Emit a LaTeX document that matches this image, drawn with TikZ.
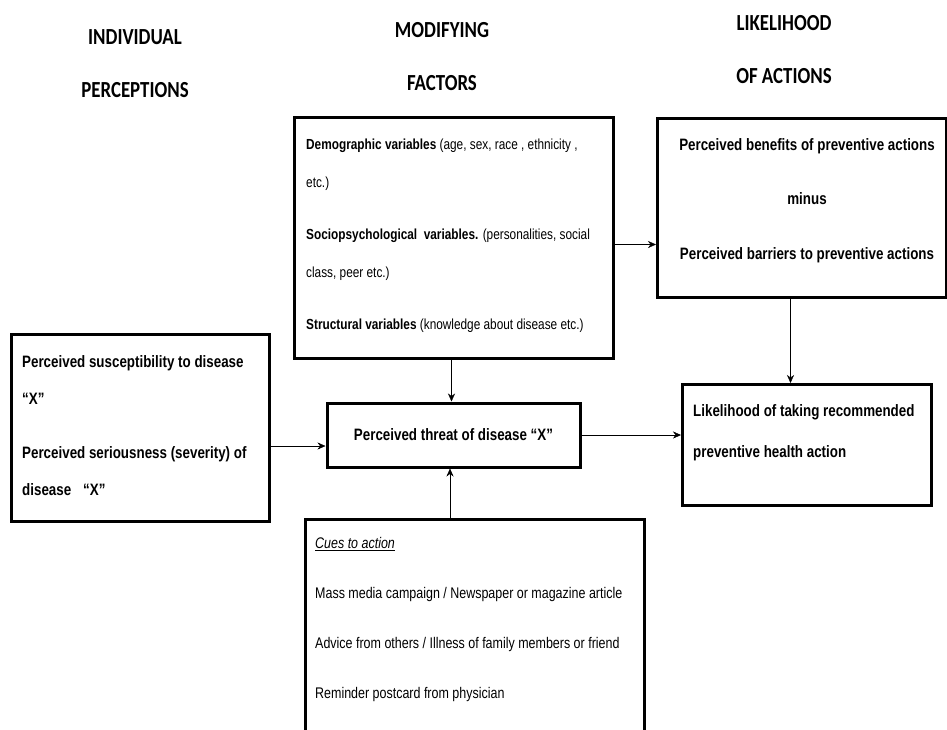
\documentclass[tikz,border=0pt]{standalone}
\usepackage{fontspec}
\setmainfont{Liberation Sans}[FakeStretch=0.81]
\newfontfamily\headfont{Carlito}[FakeStretch=0.82]
\usetikzlibrary{arrows.meta}

\tikzset{
  header/.style={font=\headfont\bfseries\fontsize{23}{53}\selectfont, align=center},
  frame/.style={draw, line width=3pt, inner sep=0pt, anchor=north west},
  boldtxt/.style={font=\bfseries\fontsize{16.5}{37}\selectfont, inner sep=0pt},
  plaintxt/.style={font=\fontsize{14.6}{38}\selectfont, inner sep=0pt},
}

\begin{document}
\begin{tikzpicture}[x=1pt, y=-1pt, >={Stealth[length=8pt,width=7pt]}]
\useasboundingbox (0,0) rectangle (947,729);
\clip (0,0) rectangle (947,729);

% headings
\node[header] (hindiv) at (135,64) {INDIVIDUAL\\PERCEPTIONS};
\node[header] (hmodif) at (442,56.5) {MODIFYING\\FACTORS};
\node[header] (hlikely) at (784,50) {LIKELIHOOD\\OF ACTIONS};

% boxes
\node[frame, minimum width=258pt, minimum height=187pt] (percbox) at (10,333) {};
\node[frame, minimum width=319pt, minimum height=241pt] (modbox) at (293,116) {};
\node[frame, minimum width=289pt, minimum height=179pt] (benbox) at (656,117) {};
\node[frame, minimum width=253pt, minimum height=64pt, anchor=center,
      font=\bfseries\fontsize{16.5}{20}\selectfont] (threat) at (453.5,435)
  {Perceived threat of disease “X”};
\node[frame, minimum width=249pt, minimum height=121pt] (likebox) at (681,383) {};
\node[frame, minimum width=339pt, minimum height=240pt] (cuebox) at (304,518) {};

% texts
\node[boldtxt, anchor=north west, align=left] (perctxt) at (22,355)
  {Perceived susceptibility to disease\\
   “X”\\[17pt]
   Perceived seriousness (severity) of\\
   disease\hspace{12pt}“X”};
\node[plaintxt, anchor=north west, align=left] (modtxt) at (306,138.5)
  {\textbf{Demographic variables} (age, sex, race , ethnicity ,\\
   etc.)\\[14pt]
   \textbf{Sociopsychological\ \ variables.} (personalities, social\\
   class, peer etc.)\\[14pt]
   \textbf{Structural variables} (knowledge about disease etc.)};
\node[boldtxt, font=\bfseries\fontsize{16.5}{54.5}\selectfont, anchor=north, align=center] (bentxt) at (807,138)
  {Perceived benefits of preventive actions\\
   minus\\
   Perceived barriers to preventive actions};
\node[boldtxt, font=\bfseries\fontsize{16.5}{41}\selectfont, anchor=north west, align=left] (liketxt) at (693,404)
  {Likelihood of taking recommended\\
   preventive health action};
\node[plaintxt, font=\fontsize{15.4}{50}\selectfont, anchor=north west, align=left] (cuetxt) at (315,537.5)
  {\underline{\textit{Cues to action}}\\
   Mass media campaign / Newspaper or magazine article\\
   Advice from others / Illness of family members or friend\\
   Reminder postcard from physician};

% connectors
\draw[->] ([yshift=-6.5pt]modbox.east) -- ([yshift=-6.5pt]modbox.east -| benbox.west);
\draw[->] ([xshift=-2.5pt]modbox.south) -- ([xshift=-2.5pt]modbox.south |- threat.north);
\draw[->] ([yshift=-11pt]threat.west -| percbox.east) -- ([yshift=-11pt]threat.west);
\draw[->] (threat.east) -- (threat.east -| likebox.west);
\draw[->] ([xshift=-11.5pt]benbox.south) -- ([xshift=-11.5pt]benbox.south |- likebox.north);
\draw[->] ([xshift=-3.5pt]threat.south |- cuebox.north) -- ([xshift=-3.5pt]threat.south);

\end{tikzpicture}
\end{document}
